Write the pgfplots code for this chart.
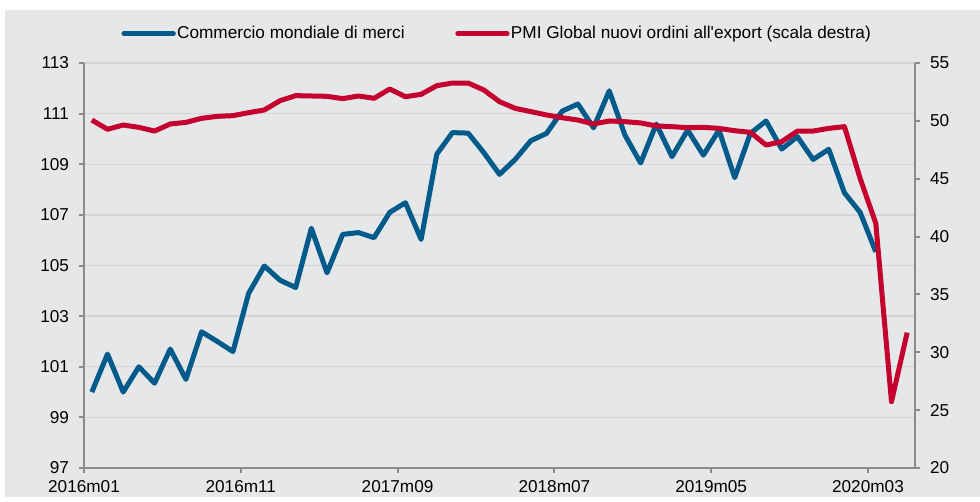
\documentclass[border=0pt]{standalone}
\usepackage{pgfplots}
\pgfplotsset{compat=1.18}
\usepackage{fontspec}
\setmainfont{Liberation Sans}
\definecolor{bg}{HTML}{E6E7E9}
\definecolor{gridc}{HTML}{D2D3D6}
\definecolor{axc}{HTML}{8C8C8C}
\definecolor{blu}{HTML}{005A8A}
\definecolor{rd}{HTML}{C4002F}
\begin{document}
\fontsize{12.9}{15}\selectfont
\begin{tikzpicture}
\fill[bg] (3.75pt,3pt) rectangle (735pt,368.25pt);
\useasboundingbox (0,0) rectangle (735pt,375.75pt);
\pgfplotsset{
 common/.style={
  at={(63pt,24.75pt)}, anchor=south west, scale only axis,
  width=623.25pt, height=303.75pt,
  xmin=-0.5, xmax=52.5,
  font=\fontsize{12.9}{15}\selectfont,
  /pgf/number format/assume math mode=true,
  tick align=outside, major tick length=3.75pt,
  tick style={axc, line width=1.5pt},
  axis line style={axc, line width=1.5pt},
 }
}
\begin{axis}[common,
  axis y line*=left, axis x line*=bottom,
  ymin=97, ymax=113, ytick={97,99,...,113},
  yticklabel style={xshift=-3pt},
  xticklabel style={yshift=-1pt},
  xtick={-0.5,9.5,19.5,29.5,39.5,49.5},
  xticklabels={2016m01,2016m11,2017m09,2018m07,2019m05,2020m03},
  ymajorgrids, major grid style={gridc, line width=1pt},
]
\addplot[blu, line width=3.75pt, line join=round] coordinates {
(0,100.0) (1,101.5) (2,100.0) (3,101.0) (4,100.35) (5,101.7) (6,100.5) (7,102.38) (8,102.0) (9,101.6)
(10,103.9) (11,104.98) (12,104.42) (13,104.13) (14,106.47) (15,104.71) (16,106.23) (17,106.3) (18,106.1) (19,107.1)
(20,107.48) (21,106.03) (22,109.4) (23,110.25) (24,110.23) (25,109.46) (26,108.6) (27,109.19) (28,109.93) (29,110.22)
(30,111.1) (31,111.38) (32,110.44) (33,111.9) (34,110.15) (35,109.05) (36,110.59) (37,109.3) (38,110.35) (39,109.36)
(40,110.35) (41,108.47) (42,110.22) (43,110.71) (44,109.6) (45,110.09) (46,109.19) (47,109.59) (48,107.87) (49,107.1)
(50,105.54)
};
\end{axis}
\begin{axis}[common,
  axis y line*=right, axis x line=none,
  ymin=20, ymax=55, ytick={20,25,...,55},
  yticklabel style={xshift=3pt},
  legend columns=2,
  legend style={draw=none, fill=none, at={(0.5,1)}, anchor=center, yshift=22pt, xshift=-2pt,
    nodes={inner sep=1pt},
    /tikz/every even column/.append style={column sep=37pt}},
  legend image code/.code={\draw[#1,line cap=round] (0pt,0pt) -- (37pt,0pt);},
]
\addlegendimage{blu, line width=3.75pt}
\addlegendentry{Commercio mondiale di merci}
\addplot[rd, line width=3.75pt, line join=round] coordinates {
(0,50.07) (1,49.27) (2,49.64) (3,49.44) (4,49.12) (5,49.73) (6,49.87) (7,50.22) (8,50.39) (9,50.45)
(10,50.71) (11,50.94) (12,51.74) (13,52.18) (14,52.15) (15,52.12) (16,51.92) (17,52.15) (18,51.95) (19,52.75)
(20,52.09) (21,52.29) (22,53.04) (23,53.27) (24,53.27) (25,52.67) (26,51.66) (27,51.08) (28,50.8) (29,50.51)
(30,50.27) (31,50.07) (32,49.73) (33,49.99) (34,49.93) (35,49.82) (36,49.56) (37,49.5) (38,49.41) (39,49.44)
(40,49.35) (41,49.15) (42,49.01) (43,47.91) (44,48.2) (45,49.12) (46,49.12) (47,49.35) (48,49.5) (49,45.03)
(50,41.14) (51,25.73) (52,31.7)
};
\addlegendentry{PMI Global nuovi ordini all\textquotesingle export (scala destra)}
\end{axis}
\end{tikzpicture}
\end{document}
